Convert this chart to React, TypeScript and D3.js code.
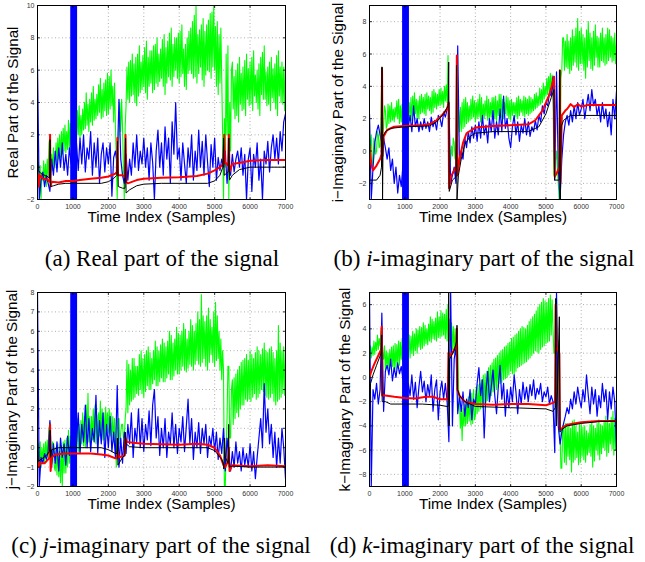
import React from "react";
import * as d3 from "d3";

// sampling steps (samples) of the noisy series
const GREEN_STEP = 25;
const BLUE_STEP = 50;
const X_TICKS = [0, 1000, 2000, 3000, 4000, 5000, 6000, 7000];
const Y_TICKS_A = [-2, 0, 2, 4, 6, 8, 10];
const Y_TICKS_B = [-2, 0, 2, 4, 6, 8];
const Y_TICKS_C = [-2, -1, 0, 1, 2, 3, 4, 5, 6, 7, 8];
const Y_TICKS_D = [-8, -6, -4, -2, 0, 2, 4, 6];

type Pt = [number, number];

// ---------- (a) real part ----------
const A_GREEN = [
  -0.5, 0.3, -1.2, 0.1, -2.0, -0.3, -0.8, 0.4, -1.0, 0.2, -1.2, 0.5, -0.6, 1.5, 1.9, -0.3, 0.8, -0.2, 1.2, 0.0,
  0.2, 1.5, 0.3, 1.8, 0.5, 2.0, 0.6, 2.2, 0.8, 2.4, 1.0, 2.6, 0.9, 2.2, 1.1, 2.9, 1.2, 2.7, 1.3, 2.5,
  1.5, 3.0, 1.6, 3.3, 1.8, 3.5, 2.0, 3.8, 1.8, 3.2, 2.0, 3.6, 2.3, 4.0, 2.4, 4.6, 2.6, 3.9, 2.2, 4.2,
  2.8, 4.6, 2.6, 5.0, 2.9, 4.2, 3.0, 4.5, 3.2, 5.1, 3.4, 5.5, 3.0, 4.8, 3.1, 5.2, 3.5, 5.4, 3.2, 5.8,
  3.3, 5.6, 3.6, 6.0, 3.8, 5.0, 2.8, 5.2, 2.5, 0.5, -2.0, 1.5, 2.0, 4.0, 2.2, 4.2, 2.5, 0.0, -2.0, 2.5,
  3.8, 6.2, 4.2, 6.5, 4.0, 6.6, 4.4, 7.0, 4.5, 6.4, 4.0, 6.8, 3.8, 7.0, 4.4, 7.5, 4.6, 6.5, 4.8, 6.9,
  5.0, 7.4, 4.6, 7.8, 4.2, 6.8, 5.0, 7.2, 5.2, 7.2, 4.6, 7.5, 4.8, 7.6, 5.2, 8.0, 5.0, 7.0, 5.3, 7.3,
  5.5, 7.9, 5.0, 8.2, 4.5, 7.4, 5.2, 7.8, 5.6, 8.3, 5.4, 8.6, 5.0, 7.6, 5.6, 8.0, 6.0, 8.0, 5.5, 8.3,
  5.2, 8.4, 5.6, 8.8, 5.8, 7.3, 5.0, 7.6, 4.8, 8.0, 5.8, 8.4, 6.0, 8.6, 5.8, 9.0, 5.5, 9.4, 5.6, 10.0,
  5.2, 8.2, 5.8, 8.5, 6.2, 8.8, 5.4, 9.2, 5.0, 8.4, 5.7, 8.8, 6.0, 9.1, 5.9, 9.5, 5.5, 9.6, 6.2, 10.0,
  6.0, 8.7, 5.0, 9.0, 4.5, 8.2, 5.2, 8.6, 5.5, 2.0, -2.0, 3.0, 0.0, 7.0, 2.0, 7.5, -2.0, 4.0, 1.0, 6.0,
  6.5, 3.6, 5.6, 3.0, 6.0, 3.2, 6.4, 2.8, 6.8, 3.9, 5.8, 3.5, 6.2, 3.6, 6.6, 3.2, 7.0, 4.2, 6.1, 3.8,
  6.5, 3.9, 6.8, 3.5, 7.2, 4.4, 5.7, 4.0, 6.0, 3.6, 6.4, 3.2, 6.8, 4.5, 7.1, 4.2, 7.5, 4.2, 5.9, 3.8,
  6.2, 3.9, 6.5, 3.5, 6.8, 4.3, 6.1, 4.0, 6.4, 3.6, 6.9, 3.2, 7.2, 4.4, 6.2, 4.0, 6.5, 3.9, 6.2, 3.5,
  6.5,
];
const A_BLUE = [
  6.3, -2.0, -0.8, -0.3, -1.2, -0.5, -1.0, -1.5, 0.5, -0.5,
  1.0, -0.3, 1.2, 0.0, 1.5, -0.2, 0.8, -0.5, 1.2, 0.2,
  0.5, 0.3, 1.5, -0.2, 1.8, 0.2, 2.0, -0.3, 1.2, 0.5,
  2.2, -0.5, 1.5, 0.0, 1.8, -1.0, 0.8, 1.5, -0.3, 1.2,
  0.2, 1.5, -1.8, 0.6, 1.0, 0.2, 4.2, 0.5, -0.5, -1.0,
  0.8, -0.8, 0.5, -0.5, 1.5, 0.0, 2.0, -0.2, 1.0, 0.2,
  1.8, 0.0, 1.2, -0.8, 1.5, 0.3, -2.0, 1.0, 2.3, 0.0,
  1.5, -0.5, 2.5, 0.5, 1.8, -1.0, 2.8, 0.8, 4.0, 0.5,
  1.2, -0.8, 1.5, 0.2, -1.0, 1.2, 0.0, 2.0, -0.8, 1.0,
  -0.2, 2.3, 0.0, 1.6, -0.5, 2.0, 0.3, -1.2, 1.4, 0.0,
  1.8, -0.8, 0.6, -0.2, 0.5, 0.0, 1.0, -1.0, 0.5, -0.5,
  0.8, -0.3, 0.5, 1.0, 0.0, 1.2, -0.5, 0.8, -2.0, 0.5,
  1.2, -1.5, 0.8, 0.0, 1.5, -0.8, 0.5, -2.0, 1.0, 0.2,
  1.6, -0.3, 1.2, 2.0, 0.5, 1.8, 0.2, 2.2, 1.0, 2.8,
  3.3,
];
const A_RED: Pt[] = [
  [0, -0.3], [30, -1.2], [60, -0.5], [150, -0.7], [300, -0.8], [340, -0.9], [355, 2.0], [370, -1.2],
  [400, -0.9], [600, -0.95], [800, -0.85], [1000, -0.85], [1200, -0.8], [1500, -0.72], [1800, -0.65],
  [2000, -0.58], [2200, -0.4], [2240, -0.3], [2255, 1.8], [2270, -0.5], [2400, -0.5], [2470, -0.6],
  [2485, 2.0], [2500, -0.9], [2550, -1.0], [2800, -0.8], [3000, -0.72], [3500, -0.65], [4000, -0.62],
  [4500, -0.55], [4800, -0.4], [5000, -0.2], [5150, 0.0], [5250, 0.2], [5270, 2.0], [5290, 0.3],
  [5380, 0.1], [5400, 2.0], [5420, -0.3], [5500, 0.2], [5800, 0.3], [6000, 0.4], [6500, 0.45], [7000, 0.45],
];
const A_BLACK: Pt[] = [
  [0, 1.0], [20, -0.2], [100, -0.4], [300, -0.6], [340, -0.7], [355, 1.7], [370, -1.2], [450, -1.15],
  [600, -1.05], [800, -1.0], [1800, -1.0], [2000, -0.9], [2150, -0.7], [2240, -0.5], [2260, 1.6],
  [2280, -1.2], [2400, -1.3], [2470, -1.3], [2485, 1.8], [2500, -1.6], [2600, -1.4], [2800, -1.15],
  [3000, -1.05], [3500, -1.0], [4800, -1.0], [5000, -0.85], [5150, -0.5], [5230, 0.0], [5250, 1.8],
  [5270, -0.5], [5380, -0.3], [5400, 1.8], [5420, -0.8], [5500, -0.5], [5700, -0.15], [6000, 0.0], [7000, 0.0],
];

// ---------- (b) i-imaginary part ----------
const B_GREEN = [
  -1.5, 0.5, 1.0, -1.0, -0.5, 0.8, 0.5, -0.2, 0.0, 1.2, 1.0, 0.2, 0.3, 2.0, 5.2, 0.8, 1.5, 2.8, 2.5, 1.4,
  1.6, 2.9, 1.7, 2.8, 1.8, 3.0, 1.9, 2.6, 1.8, 2.7, 2.1, 3.1, 2.0, 3.2, 1.7, 2.8, 1.8, 2.9, 2.2, 3.0,
  2.0, 3.2, 2.1, 3.4, 2.2, 3.0, 1.9, 3.3, 1.9, 3.4, 2.2, 3.6, 2.3, 3.2, 2.0, 3.1, 2.0, 3.4, 2.3, 3.5,
  2.4, 3.3, 2.3, 3.5, 2.2, 3.6, 2.6, 3.4, 2.5, 3.3, 2.3, 3.7, 2.4, 3.8, 2.7, 3.6, 2.6, 3.5, 2.8, 3.8,
  2.8, 3.9, 2.9, 3.7, 2.7, 4.0, 3.1, 4.1, 3.0, 5.9, -2.0, -1.2, -0.5, 0.3, -0.3, 0.8, 0.5, -0.5, -0.5, 0.6,
  1.0, 2.5, 1.2, 2.7, 1.2, 3.0, 1.4, 3.2, 1.5, 3.3, 1.7, 3.0, 1.8, 2.8, 1.9, 3.2, 2.0, 3.4, 2.1, 3.1,
  1.8, 3.0, 2.0, 3.2, 2.1, 3.5, 1.8, 3.3, 1.7, 2.9, 2.0, 3.1, 2.2, 3.4, 1.9, 3.2, 1.9, 3.0, 2.1, 3.3,
  2.3, 3.3, 2.0, 3.4, 1.8, 3.1, 2.2, 3.5, 2.4, 3.5, 2.1, 3.2, 2.0, 3.0, 2.3, 3.4, 2.2, 3.3, 2.0, 3.1,
  1.9, 3.2, 2.2, 3.0, 2.3, 3.0, 2.1, 3.3, 2.0, 3.4, 2.2, 3.2, 2.4, 3.1, 2.2, 3.4, 2.1, 3.3, 2.3, 3.2,
  2.2, 3.4, 2.3, 3.3, 2.4, 3.2, 2.5, 3.5, 2.6, 3.6, 2.7, 3.4, 2.8, 3.9, 2.9, 3.8, 3.0, 4.2, 3.2, 4.0,
  3.4, 4.5, 3.5, 4.6, 3.6, 4.8, 3.8, 4.7, 4.0, -1.5, -1.0, -0.5, 0.0, -1.2, -2.0, -3.0, -3.0, 4.5, 5.0, 7.0,
  7.0, 5.0, 6.8, 5.2, 7.2, 5.1, 6.8, 4.8, 7.0, 5.0, 7.5, 5.3, 7.1, 5.5, 7.6, 5.2, 8.2, 5.0, 7.4, 5.4,
  7.6, 5.4, 7.2, 5.0, 7.0, 4.5, 7.5, 5.2, 8.0, 5.6, 7.3, 5.1, 7.0, 5.0, 7.4, 5.3, 7.8, 5.8, 7.1, 5.2,
  7.0, 5.2, 7.3, 5.6, 7.6, 5.5, 7.0, 5.3, 7.2, 5.4, 7.6, 5.6, 7.5, 5.8, 7.1, 5.5, 7.0, 5.6, 7.3, 5.4,
  6.8,
];
const B_BLUE = [
  2.3, -3.0, -1.0, 0.5, 1.2, 1.6, 1.0, 0.5, 0.8, 0.2,
  -0.5, 0.2, -1.2, -0.5, -2.0, -1.0, -2.6, -1.5, -2.2, -0.8,
  0.5, 1.0, 1.5, 2.2, 1.2, 2.8, 1.5, 2.0, 1.2, 1.8,
  1.3, 2.0, 1.4, 1.8, 1.2, 2.1, 1.5, 1.9, 1.3, 2.2,
  2.0, 1.5, 2.4, 2.1, 2.6, 3.0, -2.0, -1.5, -1.0, -2.0,
  6.5, -0.8, 0.0, -0.5, 0.8, 0.2, 1.2, 0.5, 1.5, 0.8,
  1.6, 0.6, 1.8, 0.8, 2.2, 1.0, 1.6, 0.5, 2.0, 1.2,
  2.5, 0.8, 1.8, 1.0, 2.6, 1.2, 3.4, 1.4, 2.0, 0.8,
  0.2, 1.5, 2.2, 1.0, 1.8, 0.6, 1.6, 1.1, 2.0, 1.0,
  1.8, 0.9, 1.5, 1.2, 1.9, 1.3, 2.2, 1.8, 2.8, 2.3,
  3.0, 2.8, 3.6, 3.4, 4.6, -1.8, 4.9, -1.0, -3.0, -0.5,
  1.0, 1.8, 2.2, 1.6, 2.5, 1.8, 2.8, 2.0, 3.0, 2.2,
  2.6, 3.2, 2.0, 2.8, 3.5, 2.5, 3.8, 2.8, 3.2, 2.2,
  2.8, 1.8, 3.0, 2.0, 2.6, 1.5, 2.4, 1.0, 3.2, 2.0,
  3.7,
];
const B_RED: Pt[] = [
  [0, 0.4], [50, -0.8], [100, -1.2], [200, -0.9], [300, -0.5], [340, -0.2], [355, 5.1], [370, -0.3],
  [400, 0.9], [500, 1.3], [700, 1.5], [1000, 1.55], [1500, 1.6], [1700, 1.65], [1900, 1.9], [2050, 2.2],
  [2200, 2.6], [2240, 3.0], [2255, -2.3], [2300, -1.6], [2400, -1.2], [2460, -1.0], [2475, 5.9],
  [2490, -1.5], [2550, -0.5], [2650, 0.5], [2750, 1.1], [3000, 1.45], [3500, 1.55], [4000, 1.6],
  [4500, 1.65], [4700, 1.9], [4900, 2.5], [5100, 3.5], [5230, 4.6], [5250, -1.6], [5300, -1.4],
  [5380, -1.0], [5395, 5.0], [5410, -2.0], [5450, 2.2], [5550, 2.5], [5600, 2.6], [5700, 2.9],
  [5800, 2.7], [5900, 2.9], [6000, 2.75], [6200, 2.85], [6500, 2.85], [7000, 2.85],
];
const B_BLACK: Pt[] = [
  [0, -1.8], [200, -1.8], [300, -1.5], [340, -1.0], [355, 5.2], [370, -3.0], [385, 0.9], [450, 1.2],
  [600, 1.4], [1000, 1.5], [1700, 1.55], [1900, 1.8], [2100, 2.3], [2230, 2.8], [2245, 5.5], [2260, -2.5],
  [2350, -1.8], [2450, -1.6], [2465, 5.3], [2480, -3.0], [2520, -1.5], [2600, -0.5], [2700, 0.4],
  [2850, 0.9], [3000, 1.1], [3500, 1.2], [4500, 1.2], [4800, 1.5], [5000, 2.3], [5150, 3.3], [5230, 3.8],
  [5245, -1.8], [5380, -1.8], [5392, 5.0], [5405, -3.0], [5430, 1.5], [5500, 1.9], [5700, 2.2], [7000, 2.2],
];

// ---------- (c) j-imaginary part ----------
const C_GREEN = [
  -0.5, 0.2, -1.0, 0.3, -1.0, 0.0, -0.8, 0.2, -0.8, 0.3, -0.5, 0.4, -0.5, 1.0, 1.3, -0.8, -0.8, 0.3, 0.2, -1.0,
  -1.2, 0.0, -1.4, 0.2, -1.5, -0.2, -1.8, 0.1, -2.0, 0.3, -1.3, 0.4, -1.3, 0.5, -1.0, 0.9, -0.8, 0.6, -0.5, 0.8,
  -0.3, 1.0, -0.2, 1.2, 0.0, 1.5, -0.2, 1.2, -0.2, 1.4, 0.2, 1.8, 0.1, 1.6, 0.0, 2.2, 0.2, 2.8, 0.3, 1.6,
  0.3, 1.6, 0.4, 2.0, 0.5, 2.2, 0.2, 1.7, 0.2, 1.8, 0.6, 2.4, 0.5, 2.0, 0.4, 1.8, 0.4, 2.1, 0.6, 1.8,
  0.8, 2.0, 0.6, 1.8, 0.5, 1.6, 0.3, 1.5, 0.3, -1.0, 0.8, 1.5, 1.5, 0.2, 0.8, 1.2, 1.2, 0.5, 0.5, 1.5,
  2.0, 4.5, 1.8, 4.3, 2.2, 4.0, 2.4, 4.6, 2.5, 4.6, 2.6, 4.2, 2.8, 4.2, 2.7, 4.8, 3.0, 5.0, 2.8, 4.6,
  2.6, 4.8, 2.9, 5.0, 3.2, 5.2, 3.0, 4.9, 3.0, 4.6, 3.3, 5.0, 3.5, 5.5, 3.2, 5.2, 3.2, 5.0, 3.4, 5.3,
  3.6, 5.6, 3.4, 5.4, 3.4, 5.2, 3.6, 5.5, 3.8, 6.0, 3.5, 5.8, 3.5, 5.4, 3.7, 5.6, 4.0, 6.2, 3.8, 5.9,
  3.8, 5.8, 4.0, 6.0, 4.2, 6.4, 4.0, 6.1, 3.9, 5.6, 4.1, 6.0, 4.3, 6.6, 4.2, 6.3, 4.0, 6.0, 4.3, 6.4,
  4.5, 7.0, 4.3, 6.6, 4.2, 7.9, 4.4, 6.8, 4.6, 6.5, 4.2, 6.8, 4.0, 7.2, 4.4, 6.6, 4.8, 6.2, 4.4, 7.0,
  4.2, 7.5, 4.5, 6.8, 4.6, 6.0, 4.0, 5.6, 3.5, 5.0, 4.0, -2.0, -2.0, 0.0, 1.5, 4.2, 4.2, 0.5, 0.5, 3.0,
  3.5, 1.2, 3.6, 1.5, 3.8, 1.8, 4.0, 1.6, 4.2, 2.0, 4.4, 2.2, 4.5, 2.2, 4.6, 2.5, 4.8, 2.4, 4.5, 2.5,
  5.0, 2.4, 4.8, 2.6, 4.6, 2.8, 4.9, 2.5, 5.2, 2.6, 5.0, 2.8, 4.8, 3.0, 5.1, 2.9, 5.4, 2.7, 5.0, 2.6,
  4.9, 2.5, 5.1, 2.6, 5.2, 2.8, 4.9, 2.4, 4.6, 2.2, 5.0, 2.4, 6.3, 2.5, 5.4, 2.6, 5.0, 2.8, 5.2, 2.7,
  4.9,
];
const C_BLUE = [
  8.0, -2.0, -0.5, -0.8, -0.3, -0.6, -0.2, 1.4, -1.0, 0.2,
  -0.8, 0.3, -1.2, 0.5, -0.5, 0.2, -0.9, 0.6, -0.4, 0.4,
  0.0, 1.5, 0.2, 1.8, -0.3, 1.2, 0.3, 2.2, 0.0, 1.5,
  -0.2, 1.0, 0.3, 2.7, -0.3, 1.4, 0.2, 1.8, -0.5, 1.2,
  0.0, 1.6, -0.2, 0.8, -0.5, 3.2, -1.0, 0.5, -0.8, 0.8,
  -0.3, 1.2, 0.2, 1.8, -0.5, 1.0, 0.3, 2.0, 0.0, 1.5,
  -0.2, 1.2, 0.4, 1.9, 0.1, 2.2, 3.0, 0.5, 1.6, -0.4,
  1.0, 0.0, 1.5, -0.5, 0.8, 0.2, 1.8, 0.0, 1.2, -0.3,
  1.0, 0.3, 1.6, -0.2, 1.1, 2.5, 0.2, 1.5, -0.6, 0.8,
  0.0, 1.3, -0.3, 1.0, 0.2, 1.2, -0.5, 0.6, 0.1, 1.0,
  -0.2, 0.8, -0.6, 0.5, -0.3, 1.0, -1.2, 0.5, -0.5, -1.2,
  -0.2, -1.0, 0.3, -0.8, -0.2, -1.2, 0.0, -0.9, -0.3, -1.0,
  0.2, -1.2, -0.2, -1.6, -0.5, 0.5, 1.5, 0.0, 3.3, 0.8,
  2.0, 0.2, 1.2, -0.5, 0.8, -1.0, 0.5, -0.8, 1.0, 0.0,
  -1.6,
];
const C_RED: Pt[] = [
  [0, -0.4], [30, -1.0], [80, -0.8], [200, -0.8], [300, -0.6], [340, -0.5], [355, 1.2], [370, -1.2],
  [400, -0.5], [500, -0.35], [800, -0.3], [1500, -0.3], [1800, -0.35], [2000, -0.4], [2200, -0.55],
  [2240, -0.55], [2260, -0.2], [2300, -0.5], [2460, -0.4], [2480, 0.5], [2520, 0.3], [2700, 0.25],
  [3000, 0.2], [3500, 0.18], [4000, 0.15], [4500, 0.2], [4800, 0.15], [5000, 0.0], [5150, -0.4],
  [5250, -0.9], [5300, -1.0], [5380, -0.7], [5400, 0.0], [5420, -1.2], [5500, -0.9], [6000, -0.95],
  [6500, -0.9], [7000, -0.95],
];
const C_BLACK: Pt[] = [
  [0, 0.8], [20, -0.7], [100, -0.6], [250, -0.4], [340, -0.2], [355, 0.9], [370, -0.5], [400, -0.1],
  [600, 0.0], [1800, 0.0], [2000, -0.1], [2200, -0.3], [2240, -0.3], [2255, 0.5], [2270, -0.9],
  [2400, -0.5], [2465, -0.4], [2480, 0.8], [2500, 0.2], [2600, 0.05], [3000, 0.0], [4800, 0.0],
  [5000, -0.15], [5200, -0.6], [5240, -0.8], [5260, -1.1], [5280, 0.5], [5300, -0.5], [5380, -0.8],
  [5395, 1.2], [5410, -1.0], [5500, -0.95], [6000, -1.0], [7000, -1.0],
];

// ---------- (d) k-imaginary part ----------
const D_GREEN = [
  1.5, 2.6, 1.6, 2.5, 1.8, 3.0, 1.9, 2.9, 2.2, 3.5, 2.3, 3.2, 2.6, 3.8, 4.2, 2.0, 1.5, 2.6, 0.5, 2.2,
  0.8, 2.0, 0.6, 2.3, 1.0, 2.5, 0.9, 2.6, 0.5, 2.8, 0.7, 2.7, 1.2, 3.0, 1.0, 2.9, 1.5, 3.2, 1.3, 3.0,
  1.2, 3.0, 1.4, 3.2, 1.8, 3.5, 1.6, 3.4, 2.0, 3.8, 1.8, 3.6, 2.2, 4.0, 2.0, 3.9, 2.5, 4.2, 2.3, 4.1,
  2.4, 4.5, 2.6, 4.3, 2.8, 4.0, 2.7, 4.4, 3.0, 5.0, 2.9, 4.8, 3.2, 4.6, 3.1, 4.9, 3.0, 5.4, 3.3, 5.0,
  3.3, 5.5, 3.4, 5.3, 3.5, 5.2, 3.2, 5.6, 3.0, 6.0, 3.0, 4.8, 2.5, 4.5, 2.3, 4.2, 2.0, 4.0, 2.2, 3.8,
  2.5, -1.0, -2.0, -4.2, -2.5, -5.2, -2.5, -4.0, -2.2, -4.0, -1.8, -3.8, -1.6, -3.6, -1.5, -3.9, -1.3, -3.8, -1.0, -3.5,
  -3.2, -0.8, -3.0, -0.6, -2.8, -0.5, -2.6, -0.2, -2.5, 0.2, -2.2, 0.3, -2.0, 0.5, -1.9, 0.8, -1.8, 1.0, -1.5, 1.2,
  -1.2, 1.5, -1.1, 1.6, -1.0, 1.8, -0.8, 2.0, -0.5, 2.2, -0.4, 2.3, -0.2, 2.5, -0.1, 2.6, 0.0, 2.8, 0.2, 2.9,
  0.5, 3.2, 0.3, 3.3, 0.2, 3.5, 0.5, 3.6, 0.8, 3.8, 0.9, 4.0, 1.0, 4.2, 1.1, 4.1, 1.2, 4.0, 1.3, 4.3,
  1.5, 4.6, 1.6, 4.8, 1.8, 5.0, 2.0, 5.2, 2.2, 5.5, 2.1, 5.8, 2.0, 6.0, 2.3, 6.2, 2.5, 6.5, 2.6, 6.3,
  2.8, 6.2, 2.9, 6.5, 3.0, 6.8, 3.5, 6.4, 4.0, 2.0, 2.0, 6.5, 6.5, 3.0, 3.0, -4.5, -4.5, -7.5, -7.5, -4.0,
  -4.0, -7.0, -3.8, -7.2, -3.8, -6.5, -4.0, -6.8, -4.2, -7.8, -3.6, -7.0, -3.5, -6.8, -4.0, -6.6, -4.5, -7.2, -3.9, -7.0,
  -3.8, -6.5, -4.1, -6.8, -4.0, -7.0, -4.4, -6.4, -4.6, -6.2, -3.9, -6.5, -3.6, -7.4, -4.0, -6.9, -4.2, -6.0, -3.8, -6.4,
  -3.5, -6.8, -3.9, -6.3, -4.0, -5.8, -3.6, -6.0, -3.2, -6.5, -3.5, -6.2, -3.8, -5.5, -3.3, -5.9, -2.8, -6.4, -3.4, -6.0,
  -4.0,
];
const D_BLUE = [
  7.0, -9.0, -1.0, -1.8, -0.5, -2.2, -1.0, 5.3, -2.8, 0.5,
  1.0, 0.2, 1.5, -0.3, 0.8, 0.0, 1.2, 0.3, 0.9, -0.2,
  -1.0, -2.0, -0.5, -1.5, 0.2, -1.8, -0.4, -2.5, -0.8, 0.5,
  -1.2, -0.3, -2.0, -0.6, -1.5, 0.2, -2.8, -1.0, -0.2, -3.5,
  -1.2, -0.3, -1.8, -0.5, -2.0, -5.3, 7.0, -4.0, 1.5, 2.5,
  -3.0, -1.5, -2.8, -1.2, -3.2, -1.8, -2.5, -1.0, -3.5, -1.8,
  -2.2, -0.5, 0.8, -1.5, -0.2, -5.0, -1.2, 0.5, -2.0, -0.8,
  0.6, -1.5, -3.0, -0.8, 1.0, -1.8, -0.5, -3.2, -1.0, -2.5,
  -0.8, -2.0, 0.2, -1.2, -3.0, -1.0, -2.2, -0.4, -1.8, -0.8,
  -2.0, -0.6, -1.5, -0.2, -1.8, -0.9, -1.4, -0.5, -2.0, -1.2,
  -1.6, -0.8, -2.2, -1.5, -2.0, -6.2, 7.0, -4.0, -5.5, -4.5,
  -3.8, -3.2, -2.5, -3.0, -1.8, -2.6, -1.2, -2.2, -0.8, -1.8,
  -2.5, -1.0, -2.0, 0.2, -1.5, -3.0, -0.8, -2.2, -1.0, -3.2,
  -1.5, -2.5, -0.5, -2.0, -1.0, -3.5, -1.2, -2.6, -0.8, -2.0,
  -6.0,
];
const D_RED: Pt[] = [
  [0, 0.0], [50, 0.5], [150, 1.2], [250, 1.8], [330, 2.3], [345, 4.2], [360, -1.5], [450, -1.5],
  [700, -1.6], [1000, -1.7], [1300, -1.75], [1600, -1.6], [1800, -1.6], [2000, -1.8], [2220, -1.8],
  [2240, 2.0], [2300, 1.8], [2400, 2.3], [2460, 2.6], [2475, 4.0], [2490, -1.0], [2550, -1.5],
  [2700, -2.0], [3000, -2.2], [3500, -2.25], [4000, -2.2], [4500, -2.2], [5000, -2.3], [5200, -2.1],
  [5260, -2.0], [5275, 6.0], [5300, 2.5], [5380, 2.0], [5395, -4.3], [5450, -4.2], [5600, -3.9],
  [6000, -3.7], [6500, -3.6], [7000, -3.6],
];
const D_BLACK: Pt[] = [
  [0, -3.0], [30, -0.5], [100, 0.2], [200, 1.0], [330, 2.0], [345, 3.5], [360, -2.0], [450, -2.0],
  [600, -2.2], [1500, -2.2], [2000, -2.3], [2200, -2.4], [2230, -2.4], [2245, 7.0], [2255, -4.0],
  [2270, 1.5], [2400, 2.2], [2470, 3.0], [2480, 4.3], [2495, -1.0], [2550, -1.5], [2700, -2.0],
  [3000, -2.4], [4000, -2.5], [5000, -2.6], [5200, -2.8], [5265, -2.5], [5280, 6.5], [5300, -4.0],
  [5380, 5.0], [5400, -4.5], [5450, -4.3], [5600, -4.0], [6000, -3.8], [6500, -3.65], [7000, -3.6],
];

// dense blue burst around sample 1000 (same in all four panels), far beyond the axis range
const BLUE_BURST: Pt[] = [
  [935, -50], [945, 50], [955, -50], [965, 50], [975, -50], [985, 50], [995, -50], [1005, 50],
  [1015, -50], [1025, 50], [1035, -50], [1045, 50], [1055, -50], [1065, 50], [1075, -50], [1085, 50],
  [1095, -50], [1105, 50],
];

type PanelDef = {
  id: string;
  box: [number, number, number, number];
  yDomain: [number, number];
  yTicks: number[];
  yLabel: string;
  yLabelX: number;
  green: number[];
  blue: number[];
  red: Pt[];
  black: Pt[];
  capPre: string;
  capIt: string;
  capPost: string;
  capX: number;
  capY: number;
};

const PANELS: PanelDef[] = [
  {
    id: "a", box: [37.5, 285.5, 5.5, 199.5], yDomain: [-2, 10], yTicks: Y_TICKS_A,
    yLabel: "Real Part of the Signal", yLabelX: 18,
    green: A_GREEN, blue: A_BLUE, red: A_RED, black: A_BLACK,
    capPre: "(a) Real part of the signal", capIt: "", capPost: "", capX: 162, capY: 266,
  },
  {
    id: "b", box: [369.5, 616.5, 5.5, 199.5], yDomain: [-3, 9], yTicks: Y_TICKS_B,
    yLabel: "i\u2212Imaginary Part of the Signal", yLabelX: 343,
    green: B_GREEN, blue: B_BLUE, red: B_RED, black: B_BLACK,
    capPre: "(b) ", capIt: "i", capPost: "-imaginary part of the signal", capX: 484, capY: 266,
  },
  {
    id: "c", box: [37.5, 285.5, 292.5, 486.5], yDomain: [-2, 8], yTicks: Y_TICKS_C,
    yLabel: "j\u2212Imaginary Part of the Signal", yLabelX: 17,
    green: C_GREEN, blue: C_BLUE, red: C_RED, black: C_BLACK,
    capPre: "(c) ", capIt: "j", capPost: "-imaginary part of the signal", capX: 161, capY: 553,
  },
  {
    id: "d", box: [369.5, 616.5, 292.5, 486.5], yDomain: [-9, 7], yTicks: Y_TICKS_D,
    yLabel: "k\u2212Imaginary Part of the Signal", yLabelX: 350,
    green: D_GREEN, blue: D_BLUE, red: D_RED, black: D_BLACK,
    capPre: "(d) ", capIt: "k", capPost: "-imaginary part of the signal", capX: 482, capY: 553,
  },
];

const SANS = "'Liberation Sans', Arial, Helvetica, sans-serif";
const SERIF = "'Liberation Serif', 'Times New Roman', serif";

function fmt(v: number) {
  return v < 0 ? "\u2212" + Math.abs(v) : String(v);
}

function Panel({ p }: { p: PanelDef }) {
  const [x0, x1, y0, y1] = p.box;
  const x = d3.scaleLinear().domain([0, 7000]).range([x0, x1]);
  const y = d3.scaleLinear().domain(p.yDomain).range([y1, y0]);
  const noisy = (step: number) =>
    d3
      .line<number>()
      .x((_, i) => x(i * step))
      .y((v) => y(v));
  const pairs = d3
    .line<Pt>()
    .x((d) => x(d[0]))
    .y((d) => y(d[1]));
  const clip = `clip-${p.id}`;
  const cx = (x0 + x1) / 2;
  const cy = (y0 + y1) / 2;
  return (
    <g>
      <defs>
        <clipPath id={clip}>
          <rect x={x0} y={y0} width={x1 - x0} height={y1 - y0} />
        </clipPath>
      </defs>
      <rect x={x0} y={y0} width={x1 - x0} height={y1 - y0} fill="#fff" />
      {/* grid */}
      <g stroke="#9a9a9a" strokeWidth={0.8} strokeDasharray="1,2.5">
        {X_TICKS.slice(1, -1).map((t) => (
          <line key={"gx" + t} x1={x(t)} x2={x(t)} y1={y0} y2={y1} />
        ))}
        {p.yTicks
          .filter((t) => t > p.yDomain[0] && t < p.yDomain[1])
          .map((t) => (
            <line key={"gy" + t} x1={x0} x2={x1} y1={y(t)} y2={y(t)} />
          ))}
      </g>
      <g clipPath={`url(#${clip})`} fill="none" strokeLinejoin="round">
        <path d={noisy(GREEN_STEP)(p.green) || ""} stroke="#00ff00" strokeWidth={1.1} />
        <path d={noisy(BLUE_STEP)(p.blue) || ""} stroke="#0000ff" strokeWidth={1.2} />
        <path d={pairs(BLUE_BURST) || ""} stroke="#0000ff" strokeWidth={1.2} />
        <path d={pairs(p.red) || ""} stroke="#ff0000" strokeWidth={2} />
        <path d={pairs(p.black) || ""} stroke="#000" strokeWidth={1} />
      </g>
      {/* frame */}
      <rect x={x0} y={y0} width={x1 - x0} height={y1 - y0} fill="none" stroke="#000" strokeWidth={1} />
      {/* ticks */}
      <g stroke="#000" strokeWidth={0.8}>
        {X_TICKS.map((t) => (
          <g key={"tx" + t}>
            <line x1={x(t)} x2={x(t)} y1={y1} y2={y1 - 2.5} />
            <line x1={x(t)} x2={x(t)} y1={y0} y2={y0 + 2.5} />
          </g>
        ))}
        {p.yTicks.map((t) => (
          <g key={"ty" + t}>
            <line x1={x0} x2={x0 + 2.5} y1={y(t)} y2={y(t)} />
            <line x1={x1} x2={x1 - 2.5} y1={y(t)} y2={y(t)} />
          </g>
        ))}
      </g>
      <g fontFamily={SANS} fontSize={7} fill="#333">
        {X_TICKS.map((t) => (
          <text key={"lx" + t} x={x(t)} y={y1 + 9} textAnchor="middle">
            {t}
          </text>
        ))}
        {p.yTicks.map((t) => (
          <text key={"ly" + t} x={x0 - 3} y={y(t) + 2.5} textAnchor="end">
            {fmt(t)}
          </text>
        ))}
      </g>
      <text x={cx} y={y1 + 22.5} textAnchor="middle" fontFamily={SANS} fontSize={15.2}>
        Time Index (Samples)
      </text>
      <text
        transform={`translate(${p.yLabelX},${cy}) rotate(-90)`}
        textAnchor="middle"
        fontFamily={SANS}
        fontSize={15.2}
      >
        {p.yLabel}
      </text>
      <text x={p.capX} y={p.capY} textAnchor="middle" fontFamily={SERIF} fontSize={23}>
        {p.capPre}
        {p.capIt ? <tspan fontStyle="italic">{p.capIt}</tspan> : null}
        {p.capPost}
      </text>
    </g>
  );
}

export default function App() {
  return (
    <svg
      width={645}
      height={562}
      viewBox="0 0 645 562"
      style={{ position: "absolute", left: 0, top: 0, background: "#fff" }}
    >
      <rect x={0} y={0} width={645} height={562} fill="#fff" />
      {PANELS.map((p) => (
        <Panel key={p.id} p={p} />
      ))}
    </svg>
  );
}
